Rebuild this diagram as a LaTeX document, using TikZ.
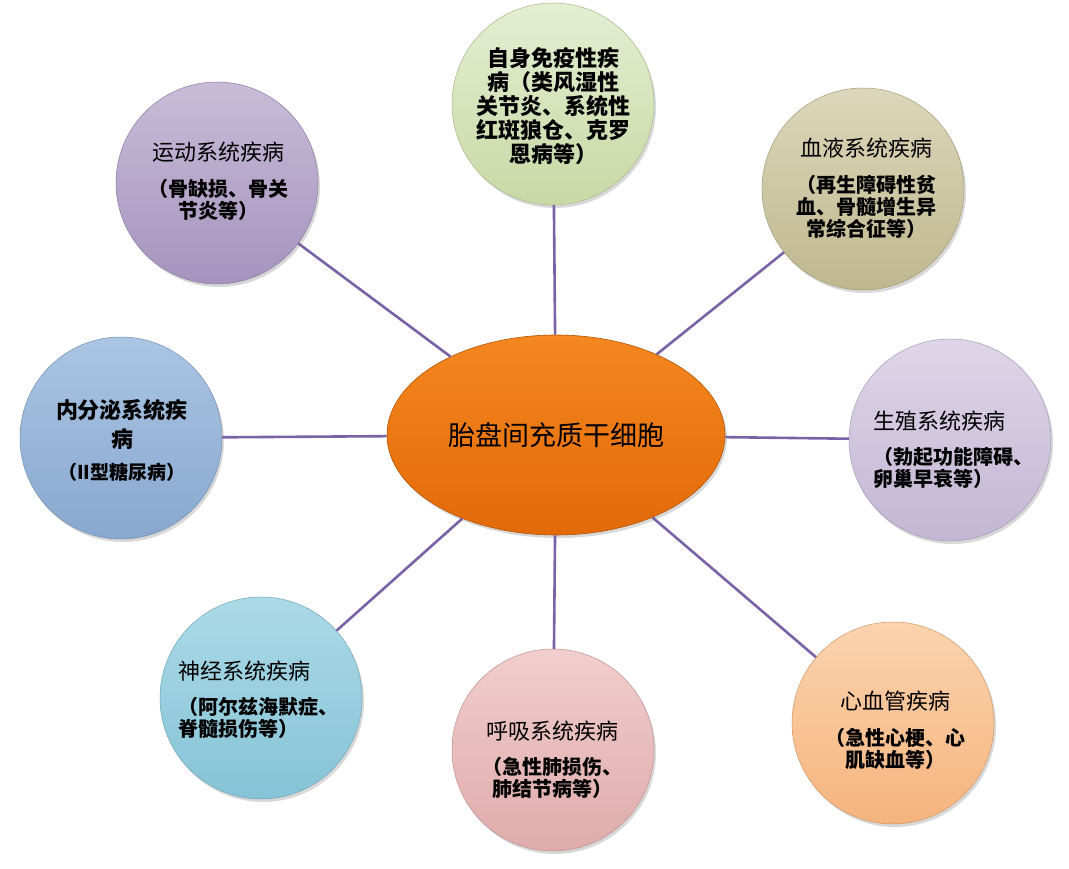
\documentclass[tikz,border=0pt]{standalone}
\usepackage{fontspec}
\setmainfont{Noto Sans CJK SC}
\usetikzlibrary{shapes.geometric,shadows}
\definecolor{linkc}{HTML}{7A62A6}
\definecolor{gtop}{HTML}{E4EED2}\definecolor{gbot}{HTML}{C8D9A5}
\definecolor{ptop}{HTML}{C8BCD8}\definecolor{pbot}{HTML}{A593BD}
\definecolor{ttop}{HTML}{DCD7BB}\definecolor{tbot}{HTML}{BFB78E}
\definecolor{btop}{HTML}{ABC5E3}\definecolor{bbot}{HTML}{88A8CF}
\definecolor{ltop}{HTML}{DED6E8}\definecolor{lbot}{HTML}{C3B6D4}
\definecolor{ctop}{HTML}{ABDAE7}\definecolor{cbot}{HTML}{86C3D6}
\definecolor{ktop}{HTML}{F1CECD}\definecolor{kbot}{HTML}{DEABAA}
\definecolor{otop}{HTML}{FCD3AE}\definecolor{obot}{HTML}{F5B47E}
\definecolor{mtop}{HTML}{F4871F}\definecolor{mbot}{HTML}{E26A08}
\newcommand\myttl[1]{{\mdseries\fontsize{22}{22}\selectfont #1}}
\newcommand\myttlb[1]{{\bfseries\fontsize{22}{22}\selectfont #1}}
\tikzset{
  bub/.style 2 args={circle, minimum size=202pt, inner sep=0pt,
    top color=#1, bottom color=#2, draw=#2!85!black, line width=0.5pt,
    drop shadow={shadow xshift=2pt, shadow yshift=-3pt, opacity=0.3}},
  hub/.style={ellipse, minimum width=338pt, minimum height=200pt, inner sep=0pt,
    top color=mtop, bottom color=mbot, draw=mbot!80!black, line width=0.6pt,
    drop shadow={shadow xshift=2pt, shadow yshift=-3pt, opacity=0.3},
    font=\fontsize{27}{27}\selectfont},
  link/.style={draw=linkc, line width=2.6pt},
  txt/.style={align=center, inner sep=0pt, font=\bfseries\fontsize{20}{22}\selectfont},
  txtl/.style={align=left, inner sep=0pt, font=\bfseries\fontsize{20}{22}\selectfont},
}
\begin{document}
\begin{tikzpicture}[x=1pt,y=-1pt]
\fill[white] (0,0) rectangle (1069,869);
\useasboundingbox (0,0) rectangle (1069,869);
% nodes
\node[hub] (c) at (556,435) {胎盘间充质干细胞};
\node[bub={gtop}{gbot}] (g) at (553,104) {};
\node[bub={ptop}{pbot}] (p) at (217,183) {};
\node[bub={ttop}{tbot}] (t) at (863,189) {};
\node[bub={btop}{bbot}] (b) at (121,438) {};
\node[bub={ltop}{lbot}] (l) at (950,440) {};
\node[bub={ctop}{cbot}] (y) at (261,698) {};
\node[bub={ktop}{kbot}] (k) at (553,750) {};
\node[bub={otop}{obot}] (o) at (893,723) {};
% links
\foreach \n in {g,p,t,b,l,y,k,o} \draw[link] (c) -- (\n);
% texts
\node[txt, font=\bfseries\fontsize{22}{24}\selectfont] (gt) at (553,106)
  {自身免疫性疾\\病（类风湿性\\关节炎、系统性\\红斑狼仓、克罗\\恩病等）};
\node[txt] (pt) at (218,181) {\myttl{运动系统疾病}\\[14pt]（骨缺损、骨关\\节炎等）};
\node[txt] (tt) at (866,188) {\myttl{血液系统疾病}\\[14pt]（再生障碍性贫\\血、骨髓增生异\\常综合征等）};
\node[txt] (bt) at (122,440) {\myttlb{内分泌系统疾}\\[7pt]\myttlb{病}\\[10pt]{\fontsize{19}{22}\selectfont （II型糖尿病）}};
\node[txtl] (lt) at (953,450) {\myttl{生殖系统疾病}\\[13pt]（勃起功能障碍、\\卵巢早衰等）};
\node[txtl] (yt) at (258,700) {\myttl{神经系统疾病}\\[13pt]（阿尔兹海默症、\\脊髓损伤等）};
\node[txt] (kt) at (552,760) {\myttl{呼吸系统疾病}\\[13pt]（急性肺损伤、\\肺结节病等）};
\node[txt] (ot) at (895,730) {\myttl{心血管疾病}\\[14pt]（急性心梗、心\\肌缺血等）};
\end{tikzpicture}
\end{document}
